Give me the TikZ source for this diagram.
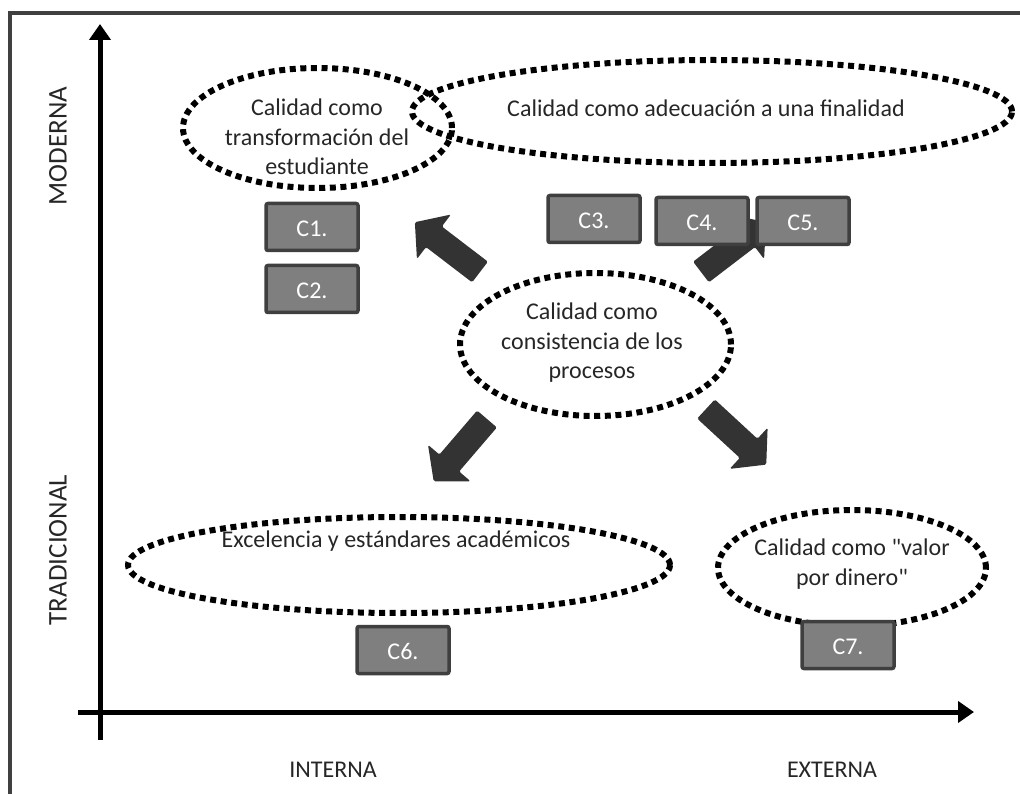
\documentclass[tikz,border=0pt]{standalone}
\usepackage{fontspec}
\setmainfont{Carlito}
\usetikzlibrary{arrows.meta,shapes.geometric}
\definecolor{framecol}{RGB}{64,64,64}
\definecolor{arrowdark}{RGB}{51,51,51}
\definecolor{boxfill}{RGB}{127,127,127}
\definecolor{boxline}{RGB}{63,63,63}
\tikzset{
  dotell/.style={ellipse, draw=black, line width=6pt, dash pattern=on 6pt off 4.6pt, inner sep=0pt, outer sep=0pt},
  lbl/.style={font=\fontsize{24}{29.5}\selectfont, align=center, inner sep=0pt, text=black!85},
  axlbl/.style={font=\fontsize{27}{30}\selectfont, inner sep=0pt, text=black!85},
  cbox/.style={draw=boxline, fill=boxfill, line width=3.5pt, rounded corners=2pt, minimum width=92pt, minimum height=47pt, text=white, font=\fontsize{24}{28}\selectfont, inner sep=0pt, text height=19pt, text depth=0pt},
  axis/.style={line width=5pt, -{Triangle[width=21pt,length=16pt]}},
  bigarrow/.style={fill=arrowdark, rounded corners=1.5pt}
}
\newcommand{\blockarr}{(0,-13) -- (58,-13) -- (58,-28) -- (82,0) -- (58,28) -- (58,13) -- (0,13) -- cycle}
\begin{document}
\begin{tikzpicture}[x=1pt,y=-1pt]
\useasboundingbox (0,0) rectangle (1020,794);
% frame
\draw[framecol, line width=4pt] (10,796) -- (10,13) -- (1022,13);
% axes
\coordinate (ybot) at (100,740);
\coordinate (ytop) at (100,24);
\coordinate (xleft) at (78,712);
\coordinate (xright) at (974,712);
\draw[axis] (ybot) -- (ytop);
\draw[axis] (xleft) -- (xright);
% axis labels
\node[axlbl, rotate=90] (moderna) at (58,146) {MODERNA};
\node[axlbl, rotate=90] (tradicional) at (58,550) {TRADICIONAL};
\node[lbl] (interna) at (333,770) {INTERNA};
\node[lbl] (externa) at (832,770) {EXTERNA};
% ellipses
\node[dotell, minimum width=269pt, minimum height=120pt] (e1) at (317.5,128) {};
\node[dotell, minimum width=600pt, minimum height=103pt] (e2) at (712,111.5) {};
\node[dotell, minimum width=271pt, minimum height=143pt] (e3) at (595.5,344.5) {};
\node[dotell, minimum width=542pt, minimum height=96pt] (e4) at (399,565) {};
\node[dotell, minimum width=268pt, minimum height=116pt] (e5) at (852,568) {};
% ellipse texts
\node[lbl] (t1) at (317,137) {Calidad como\\transformación del\\estudiante};
\node[lbl] (t2) at (706,108) {Calidad como adecuación a una finalidad};
\node[lbl] (t3) at (592,343) {Calidad como\\consistencia de los\\procesos};
\node[lbl] (t4) at (396,541) {Excelencia y estándares académicos};
\node[lbl] (t5) at (852,564) {Calidad como \textquotedbl valor\\por dinero\textquotedbl};
% block arrows
\begin{scope}[shift={(480,272)}, rotate=142.6]
  \fill[bigarrow] \blockarr;
\end{scope}
\begin{scope}[shift={(701,272)}, rotate=37.4]
  \fill[bigarrow] \blockarr;
\end{scope}
\begin{scope}[shift={(487,419)}, rotate=229.4]
  \fill[bigarrow] \blockarr;
\end{scope}
\begin{scope}[shift={(706,409)}, rotate=-42.7]
  \fill[bigarrow] \blockarr;
\end{scope}
% boxes
\node[cbox] (c1) at (312,227) {C1.};
\node[cbox] (c2) at (312,289) {C2.};
\node[cbox] (c3) at (594,219) {C3.};
\node[cbox] (c4) at (702,221) {C4.};
\node[cbox] (c5) at (803,221) {C5.};
\node[cbox] (c6) at (403,650) {C6.};
\node[cbox] (c7) at (848,645) {C7.};
\end{tikzpicture}
\end{document}
